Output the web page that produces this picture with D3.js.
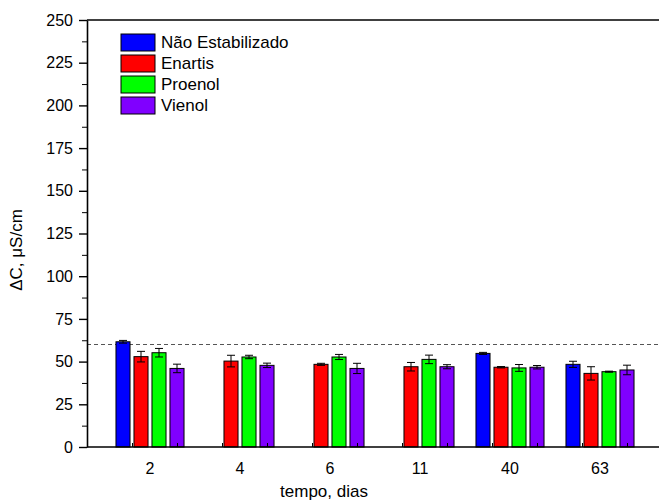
<!DOCTYPE html>
<html>
<head>
<meta charset="utf-8">
<script src="https://cdn.jsdelivr.net/npm/d3@7"></script>
<style>
  body { margin: 0; background: #fff; }
  svg { display: block; font-family: "Liberation Sans", Arial, sans-serif; }
</style>
</head>
<body>
<div id="chart"></div>
<script>
// data
const categories = ["2", "4", "6", "11", "40", "63"];
const seriesNames = ["Não Estabilizado", "Enartis", "Proenol", "Vienol"];
const naoEstab    = [61.6, null, null, null, 54.8, 48.4];
const naoEstabErr = [0.8, null, null, null, 0.6, 1.8];
const enartis     = [52.9, 50.3, 48.4, 47.0, 46.7, 43.1];
const enartisErr  = [3.1, 3.4, 0.6, 2.5, 0.4, 3.9];
const proenol     = [55.2, 52.7, 52.7, 51.3, 46.3, 44.1];
const proenolErr  = [2.5, 1.0, 1.5, 2.5, 2.0, 0.3];
const vienol      = [46.0, 47.8, 46.0, 47.0, 46.7, 45.1];
const vienolErr   = [2.5, 1.3, 3.0, 1.2, 1.0, 2.8];
const yTicks = [0, 25, 50, 75, 100, 125, 150, 175, 200, 225, 250];
const refLine = 60;

const colors = ["#0000ff", "#ff0000", "#00ff00", "#8000ff"];
const values = [naoEstab, enartis, proenol, vienol];
const errors = [naoEstabErr, enartisErr, proenolErr, vienolErr];

const W = 659, H = 500;
const m = { left: 87, top: 20, bottom: 447, right: 663 };

const svg = d3.select("#chart").append("svg")
  .attr("width", W).attr("height", H);

const y = d3.scaleLinear().domain([0, 250]).range([m.bottom, m.top]);
const x0 = d3.scaleBand().domain(categories).range([m.left, m.right])
  .paddingInner(0.2).paddingOuter(0.3);
const x1 = d3.scaleBand().domain(seriesNames).range([0, x0.bandwidth()])
  .paddingInner(0.22).paddingOuter(0.11);
// continuous helper for the small x ticks
const xLin = d3.scaleLinear().domain([-0.7, 5.7]).range([m.left, m.right]);

// reference line
svg.append("line")
  .attr("x1", m.left).attr("x2", W)
  .attr("y1", y(refLine)).attr("y2", y(refLine))
  .attr("stroke", "#555").attr("stroke-width", 1.2)
  .attr("stroke-dasharray", "4,3");

// bars
const rows = [];
categories.forEach((c, i) => {
  seriesNames.forEach((s, j) => {
    if (values[j][i] != null) rows.push({ c, s, j, v: values[j][i], e: errors[j][i] });
  });
});

const g = svg.append("g");
g.selectAll("rect.bar").data(rows).enter().append("rect")
  .attr("class", "bar")
  .attr("x", d => x0(d.c) + x1(d.s))
  .attr("y", d => y(d.v))
  .attr("width", x1.bandwidth())
  .attr("height", d => y(0) - y(d.v))
  .attr("fill", d => colors[d.j])
  .attr("stroke", "#000").attr("stroke-width", 1);

// error bars
const eb = g.selectAll("g.err").data(rows).enter().append("g").attr("class", "err");
const cx = d => x0(d.c) + x1(d.s) + x1.bandwidth() / 2;
eb.append("line")
  .attr("x1", cx).attr("x2", cx)
  .attr("y1", d => y(d.v - d.e)).attr("y2", d => y(d.v + d.e))
  .attr("stroke", "#000").attr("stroke-width", 1);
[-1, 1].forEach(sg => {
  eb.append("line")
    .attr("x1", d => cx(d) - 4).attr("x2", d => cx(d) + 4)
    .attr("y1", d => y(d.v + sg * d.e)).attr("y2", d => y(d.v + sg * d.e))
    .attr("stroke", "#000").attr("stroke-width", 1);
});

// y axis
const yAxis = svg.append("g").attr("transform", `translate(${m.left},0)`)
  .call(d3.axisLeft(y).tickValues(yTicks).tickSize(8).tickSizeOuter(0).tickPadding(6));
svg.append("g").attr("transform", `translate(${m.left},0)`)
  .call(d3.axisLeft(y).tickValues(yTicks.slice(0, -1).map(v => v + 12.5)).tickSize(5).tickFormat(""))
  .call(a => a.select(".domain").remove());
yAxis.select(".domain").attr("stroke-width", 1.6);
yAxis.selectAll("line").attr("stroke-width", 1.4);
yAxis.selectAll("text").attr("font-size", 16).attr("fill", "#000")
  .attr("font-family", "Liberation Sans, Arial, sans-serif");

// x axis
svg.append("line").attr("x1", m.left).attr("x2", W)
  .attr("y1", m.bottom).attr("y2", m.bottom)
  .attr("stroke", "#000").attr("stroke-width", 1.6);
svg.append("g").attr("transform", `translate(0,${m.bottom})`)
  .call(d3.axisBottom(xLin).tickValues(d3.range(-0.2, 5.7, 0.5)).tickSize(-4).tickFormat(""))
  .call(a => a.select(".domain").remove());
const xAxis = svg.append("g").attr("transform", `translate(0,${m.bottom})`)
  .call(d3.axisBottom(x0).tickSize(0).tickPadding(16));
xAxis.select(".domain").remove();
xAxis.selectAll("text").attr("font-size", 16).attr("fill", "#000")
  .attr("font-family", "Liberation Sans, Arial, sans-serif");

// top frame line
svg.append("line").attr("x1", m.left).attr("x2", W)
  .attr("y1", m.top).attr("y2", m.top)
  .attr("stroke", "#000").attr("stroke-width", 1.6);

// axis titles
svg.append("text")
  .attr("transform", "translate(22,250) rotate(-90)")
  .attr("text-anchor", "middle").attr("font-size", 17)
  .text("ΔC, μS/cm");
svg.append("text")
  .attr("x", 324).attr("y", 497)
  .attr("text-anchor", "middle").attr("font-size", 17)
  .text("tempo, dias");

// legend
const leg = svg.append("g").attr("transform", "translate(121,34)");
const li = leg.selectAll("g").data(seriesNames).enter().append("g")
  .attr("transform", (d, i) => `translate(0,${i * 21})`);
li.append("rect").attr("width", 34).attr("height", 17)
  .attr("fill", (d, i) => colors[i]).attr("stroke", "#000").attr("stroke-width", 1);
li.append("text").attr("x", 40).attr("y", 14)
  .attr("font-size", 17).text(d => d);
</script>
</body>
</html>
